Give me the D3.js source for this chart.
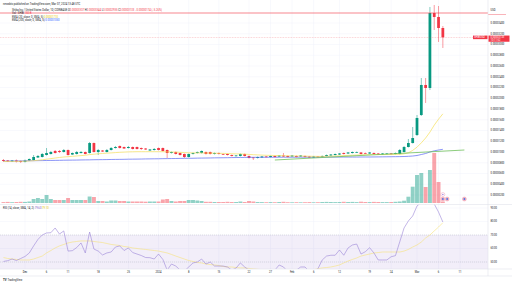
<!DOCTYPE html>
<html>
<head>
<meta charset="utf-8">
<script src="https://d3js.org/d3.v7.min.js"></script>
<style>
body { margin: 0; background: #fff; }
svg { display: block; font-family: Roboto, "Liberation Sans", sans-serif; }
.ax { font-size: 2.6px; fill: #131722; }
.hd { font-size: 2.7px; fill: #131722; }
</style>
</head>
<body>
<svg id="chart" width="512" height="284"></svg>
<script>
// SHIB/USD daily candles, 26 Nov 2023 .. 7 Mar 2024
// prices in millionths of a USD (1 = 0.00000100)
var firstDay = Date.UTC(2023, 10, 26);

var open = [8.51, 8.42, 8.23, 8.42, 8.33, 8.14, 8.42, 8.51, 8.98, 9.07,
  9.44, 9.63, 10.19, 10.19, 10.00, 10.37, 9.53, 9.63, 9.81, 10.00,
  9.81, 11.67, 10.00, 10.28, 10.00, 10.37, 10.74, 11.12, 10.93, 10.74,
  10.93, 10.93, 10.74, 10.65, 10.28, 10.37, 10.74, 10.74, 10.37, 9.81,
  10.00, 9.81, 9.63, 9.07, 9.63, 9.81, 9.81, 10.00, 10.00, 9.63,
  9.81, 9.63, 9.63, 9.44, 9.22, 9.26, 9.63, 9.26, 8.98, 8.88,
  8.98, 9.16, 9.07, 9.26, 9.16, 9.35, 9.26, 9.16, 9.26, 9.16,
  9.26, 9.16, 8.98, 9.16, 9.07, 9.26, 9.35, 9.44, 9.53, 9.81,
  9.72, 9.81, 9.91, 9.91, 9.81, 9.72, 9.81, 9.72, 9.53, 9.63,
  9.72, 9.63, 9.63, 10.00, 10.93, 11.67, 13.16, 16.88, 22.47, 21.91,
  35.86, 35.12, 33.07];
var high = [8.70, 8.51, 8.51, 8.60, 8.42, 8.60, 8.79, 9.44, 9.44, 9.81,
  10.74, 10.19, 10.37, 10.37, 10.56, 10.47, 9.91, 10.19, 10.19, 10.09,
  11.86, 11.77, 10.56, 10.37, 10.56, 10.93, 11.12, 11.21, 11.02, 11.12,
  11.02, 11.02, 10.84, 10.74, 10.56, 10.74, 10.84, 10.84, 10.47, 10.09,
  10.09, 9.91, 9.72, 9.72, 9.91, 10.09, 10.28, 10.09, 10.09, 9.91,
  9.91, 9.72, 9.72, 9.53, 9.44, 9.72, 9.72, 9.35, 9.07, 9.16,
  9.26, 9.26, 9.35, 9.35, 9.44, 9.81, 9.35, 9.44, 9.35, 9.44,
  9.35, 9.26, 9.26, 9.26, 9.35, 9.53, 9.63, 9.72, 9.81, 9.91,
  10.00, 10.09, 10.09, 10.00, 9.91, 10.00, 9.91, 9.81, 9.81, 9.81,
  9.81, 9.91, 10.56, 11.12, 12.42, 14.65, 16.88, 23.77, 23.77, 36.98,
  37.35, 37.16, 33.44];
var low = [8.14, 8.14, 8.14, 8.05, 7.95, 8.05, 8.33, 8.42, 8.88, 8.98,
  9.35, 9.53, 9.72, 9.81, 9.91, 9.35, 9.44, 9.53, 9.72, 9.53,
  9.72, 9.91, 9.44, 10.00, 9.91, 10.28, 10.65, 10.65, 10.56, 10.65,
  10.47, 10.47, 10.37, 10.37, 10.19, 10.28, 10.28, 10.09, 8.88, 9.72,
  9.53, 9.35, 8.88, 8.98, 9.53, 9.72, 9.72, 9.53, 9.53, 9.53,
  9.53, 9.44, 9.35, 9.16, 9.16, 9.16, 9.16, 8.79, 8.51, 8.79,
  8.88, 8.98, 8.98, 8.98, 9.07, 9.07, 8.98, 9.07, 8.98, 9.07,
  8.98, 8.88, 8.88, 8.98, 8.98, 9.16, 9.26, 9.35, 9.44, 9.53,
  9.63, 9.72, 9.81, 9.53, 9.63, 9.63, 9.53, 9.44, 9.44, 9.53,
  9.53, 9.53, 9.53, 9.91, 10.84, 11.58, 12.98, 16.70, 19.12, 21.53,
  32.70, 30.47, 29.35];
var close = [8.33, 8.23, 8.42, 8.23, 8.14, 8.42, 8.70, 9.07, 9.26, 9.63,
  9.81, 10.00, 9.81, 10.00, 10.37, 9.44, 9.81, 10.00, 10.00, 9.63,
  11.67, 10.00, 10.37, 10.09, 10.37, 10.74, 10.93, 10.74, 10.65, 10.93,
  10.56, 10.56, 10.56, 10.47, 10.47, 10.56, 10.37, 10.19, 9.81, 10.00,
  9.63, 9.44, 9.07, 9.63, 9.81, 10.00, 10.19, 9.63, 9.63, 9.81,
  9.63, 9.53, 9.44, 9.26, 9.35, 9.63, 9.26, 8.88, 8.85, 9.07,
  9.16, 9.07, 9.26, 9.07, 9.35, 9.16, 9.07, 9.35, 9.07, 9.35,
  9.07, 8.98, 9.16, 9.07, 9.26, 9.44, 9.53, 9.63, 9.72, 9.63,
  9.91, 10.00, 10.00, 9.63, 9.72, 9.91, 9.63, 9.53, 9.72, 9.72,
  9.63, 9.81, 10.37, 10.93, 11.67, 12.60, 16.33, 22.47, 21.91, 35.86,
  35.12, 33.07, 31.33];
// volume, billions of SHIB
var volume = [90, 110, 80, 100, 120, 110, 150, 400, 500, 400,
  800, 400, 300, 300, 300, 500, 300, 300, 300, 300,
  650, 600, 200, 200, 150, 250, 250, 200, 200, 150,
  150, 150, 150, 130, 150, 150, 150, 350, 400, 200,
  150, 200, 200, 300, 300, 250, 200, 120, 120, 100,
  100, 100, 120, 100, 100, 150, 100, 200, 150, 100,
  90, 80, 90, 80, 100, 120, 80, 70, 80, 70,
  80, 90, 70, 80, 100, 110, 100, 90, 100, 120,
  100, 110, 90, 130, 100, 90, 110, 100, 90, 90,
  100, 120, 150, 230, 630, 1630, 2800, 3000, 1600, 3300,
  5000, 2100, 150];
var ema20 = [8.23, 8.23, 8.25, 8.25, 8.27, 8.29, 8.33, 8.38, 8.46, 8.55,
  8.66, 8.77, 8.88, 8.98, 9.07, 9.13, 9.20, 9.26, 9.33, 9.39,
  9.52, 9.59, 9.67, 9.72, 9.78, 9.83, 9.89, 9.94, 9.98, 10.02,
  10.04, 10.06, 10.06, 10.06, 10.06, 10.06, 10.06, 10.06, 10.02, 10.00,
  9.98, 9.94, 9.89, 9.85, 9.83, 9.83, 9.83, 9.81, 9.80, 9.78,
  9.76, 9.74, 9.72, 9.68, 9.65, 9.63, 9.61, 9.55, 9.50, 9.46,
  9.42, 9.39, 9.37, 9.35, 9.33, 9.31, 9.29, 9.27, 9.26, 9.26,
  9.24, 9.22, 9.20, 9.18, 9.18, 9.20, 9.22, 9.26, 9.29, 9.33,
  9.37, 9.40, 9.44, 9.46, 9.48, 9.50, 9.52, 9.52, 9.52, 9.53,
  9.53, 9.55, 9.57, 9.66, 9.85, 10.30, 10.90, 11.70, 12.60, 13.70,
  15.00, 16.10, 17.10];
var ema200 = [8.29, 8.30, 8.32, 8.33, 8.34, 8.35, 8.37, 8.38, 8.39, 8.40,
  8.42, 8.43, 8.44, 8.45, 8.47, 8.48, 8.49, 8.50, 8.52, 8.53,
  8.54, 8.56, 8.57, 8.58, 8.59, 8.61, 8.62, 8.63, 8.64, 8.66,
  8.67, 8.68, 8.69, 8.71, 8.72, 8.73, 8.74, 8.76, 8.77, 8.78,
  8.79, 8.81, 8.82, 8.83, 8.84, 8.86, 8.87, 8.88, 8.89, 8.91,
  8.92, 8.93, 8.94, 8.96, 8.97, 8.98, 8.99, 9.01, 9.01, 9.01,
  9.02, 9.02, 9.02, 9.02, 9.03, 9.03, 9.03, 9.03, 9.03, 9.04,
  9.04, 9.04, 9.04, 9.04, 9.05, 9.05, 9.05, 9.05, 9.05, 9.06,
  9.06, 9.06, 9.06, 9.07, 9.07, 9.07, 9.08, 9.09, 9.10, 9.11,
  9.12, 9.13, 9.14, 9.16, 9.20, 9.25, 9.35, 9.53, 9.72, 10.00,
  10.22, 10.37, 10.50];
var rsi = [50.4, 51, 52.2, 51.1, 52.6, 54.1, 56.7, 61.9, 66.7, 70,
  71.5, 71.7, 75.2, 70.7, 73, 58.1, 58.4, 60.7, 64.1, 56.7,
  72.2, 59.6, 58.1, 55.2, 56.7, 57.4, 61.1, 61.9, 58.5, 60.4,
  57, 55.9, 54.8, 53.3, 53.2, 52.2, 55.9, 51.9, 44, 48.5,
  47, 44.1, 43.3, 46.3, 49.3, 50, 52.2, 48.5, 50, 47,
  47, 47, 46.3, 44, 45.5, 49.3, 46.3, 44, 43, 42,
  41.5, 43, 44.5, 44, 47.8, 46.3, 43, 42, 44, 46.3,
  46.3, 43, 42, 45, 51.5, 54.4, 55, 55, 58.9, 55,
  60.4, 62.6, 63.3, 55.9, 57.6, 60.6, 56.7, 51.5, 51.5, 51.5,
  53.9, 54.7, 65, 75.2, 80.4, 84.1, 91.5, 94.1, 93.2, 96.0,
  93.0, 87, 79.6];
var rsiMa = [53.3, 52.6, 52.2, 51.9, 51.5, 51.5, 51.5, 52.2, 53.3, 54.4,
  56.7, 58.5, 60.4, 61.9, 63, 64.1, 64.8, 65.2, 65.6, 65.6,
  65.6, 65.2, 64.8, 64.4, 63.7, 63, 62.6, 62.2, 61.5, 61.1,
  60.4, 60, 59.6, 59.3, 58.9, 58.5, 58.1, 57.4, 56.7, 55.6,
  54.4, 53.3, 52.2, 51.1, 50.4, 49.6, 49.3, 48.5, 48.1, 47.8,
  47.4, 46.7, 46.3, 46.3, 45.9, 45.6, 45.6, 45.2, 44.9, 44.6,
  44.3, 44, 43.8, 43.6, 43.5, 43.4, 43.3, 43.3, 43.3, 43.4,
  43.6, 43.9, 44.3, 45, 45.6, 45.9, 46.3, 47, 47.8, 49.3,
  50.7, 51.9, 53, 54.4, 55.2, 55.9, 56.7, 57, 57.4, 57.4,
  57.4, 57.4, 57.4, 58.1, 59.3, 61.1, 62.6, 64.8, 67.8, 70,
  73, 75.9, 79.1];

var priceTicks = [2, 4, 6, 8, 10, 12, 14, 16, 18, 20, 22, 24, 26, 28, 30, 32, 34];
var rsiTicks = [50, 60, 70, 80, 90];
var timeTicks = ["2023-12-01", "2023-12-06", "2023-12-11", "2023-12-18", "2023-12-25", "2024-01-01",
  "2024-01-08", "2024-01-15", "2024-01-22", "2024-01-27", "2024-02-01", "2024-02-06", "2024-02-12",
  "2024-02-19", "2024-02-24", "2024-03-01", "2024-03-06", "2024-03-11"];
var timeLabels = ["Dec", "6", "11", "18", "25", "2024", "8", "15", "22", "27", "Feb", "6", "12",
  "19", "24", "Mar", "6", "11"];
var trendLine = [["2024-01-28", 8.51], ["2024-03-12", 10.37]];
var hLine = 35.86;
var events = [["2024-03-07", 0], ["2024-03-07", 1], ["2024-03-08", 1], ["2024-03-12", 1]];

var UP = "#089981", DOWN = "#f23645", GRID = "#f0f3fa";
var axisX = 488, sepY = 204.5, rsiBottom = 269, timeBottom = 276;

var svg = d3.select("#chart");
svg.append("rect").attr("width", 512).attr("height", 284).attr("fill", "#fff");

var days = open.map(function(d, i) { return d3.utcDay.offset(new Date(firstDay), i); });
var x = d3.scaleUtc()
  .domain([new Date(Date.UTC(2023, 11, 1)), new Date(Date.UTC(2024, 2, 1))])
  .range([25, 417]);
var y = d3.scaleLinear().domain([2, 34]).range([195, 23]);
var yVol = d3.scaleLinear().domain([0, 5000]).range([203, 153]);
var yRsi = d3.scaleLinear().domain([50, 90]).range([262, 208]);
var step = x(days[1]) - x(days[0]);

var defs = svg.append("defs");
defs.append("clipPath").attr("id", "cp-price").append("rect")
  .attr("x", 0).attr("y", 0).attr("width", axisX).attr("height", sepY);
defs.append("clipPath").attr("id", "cp-rsi").append("rect")
  .attr("x", 0).attr("y", sepY).attr("width", axisX).attr("height", rsiBottom - sepY);

// grid
var grid = svg.append("g").attr("stroke", GRID).attr("stroke-width", 0.5);
timeTicks.forEach(function(t) {
  var xx = x(new Date(t));
  grid.append("line").attr("x1", xx).attr("x2", xx).attr("y1", 0).attr("y2", rsiBottom);
});
priceTicks.forEach(function(p) {
  grid.append("line").attr("x1", 0).attr("x2", axisX).attr("y1", y(p)).attr("y2", y(p));
});
rsiTicks.forEach(function(r) {
  grid.append("line").attr("x1", 0).attr("x2", axisX).attr("y1", yRsi(r)).attr("y2", yRsi(r));
});

// price pane
var pp = svg.append("g").attr("clip-path", "url(#cp-price)");

pp.selectAll("rect.vol").data(volume).enter().append("rect")
  .attr("class", "vol")
  .attr("x", function(d, i) { return x(days[i]) - step / 2 + 0.2; })
  .attr("width", step - 0.4)
  .attr("y", function(d) { return yVol(d); })
  .attr("height", function(d) { return yVol(0) - yVol(d); })
  .attr("fill", function(d, i) { return close[i] >= open[i] ? UP : DOWN; })
  .attr("fill-opacity", 0.45);

var candles = pp.selectAll("g.c").data(open).enter().append("g").attr("class", "c");
candles.append("line")
  .attr("x1", function(d, i) { return x(days[i]); })
  .attr("x2", function(d, i) { return x(days[i]); })
  .attr("y1", function(d, i) { return y(high[i]); })
  .attr("y2", function(d, i) { return y(low[i]); })
  .attr("stroke", function(d, i) { return close[i] >= open[i] ? UP : DOWN; })
  .attr("stroke-width", 0.5);
candles.append("rect")
  .attr("x", function(d, i) { return x(days[i]) - step * 0.32; })
  .attr("width", step * 0.64)
  .attr("y", function(d, i) { return y(Math.max(open[i], close[i])); })
  .attr("height", function(d, i) { return Math.max(0.7, Math.abs(y(open[i]) - y(close[i]))); })
  .attr("fill", function(d, i) { return close[i] >= open[i] ? UP : DOWN; });

var line = d3.line().x(function(d, i) { return x(days[i]); });
pp.append("path").datum(ema200)
  .attr("d", line.y(function(d) { return y(d); }))
  .attr("fill", "none").attr("stroke", "#5a67f2").attr("stroke-width", 0.7);
pp.append("path").datum(ema20)
  .attr("d", line.y(function(d) { return y(d); }))
  .attr("fill", "none").attr("stroke", "#f5e05a").attr("stroke-width", 0.7);
pp.append("line")
  .attr("x1", x(new Date(trendLine[0][0]))).attr("y1", y(trendLine[0][1]))
  .attr("x2", x(new Date(trendLine[1][0]))).attr("y2", y(trendLine[1][1]))
  .attr("stroke", "#6fbf5a").attr("stroke-width", 0.8);

// current price line and horizontal level
var last = close[close.length - 1];
svg.append("line").attr("x1", 0).attr("x2", axisX).attr("y1", y(last)).attr("y2", y(last))
  .attr("stroke", DOWN).attr("stroke-width", 0.4).attr("stroke-dasharray", "0.8,0.8").attr("opacity", 0.7);
svg.append("line").attr("x1", 0).attr("x2", axisX).attr("y1", y(hLine)).attr("y2", y(hLine))
  .attr("stroke", DOWN).attr("stroke-width", 0.6);
svg.append("line").attr("x1", axisX).attr("x2", 506).attr("y1", y(hLine) + 1.5).attr("y2", y(hLine) + 1.5)
  .attr("stroke", "#f7a1a8").attr("stroke-width", 0.8);

// events
events.forEach(function(e) {
  var ex = x(new Date(e[0])), ey = e[1] ? 199 : 194.5;
  svg.append("circle").attr("cx", ex).attr("cy", ey).attr("r", 2)
    .attr("fill", e[1] ? "#f7b6bd" : "#fff").attr("stroke", "#e88fb0").attr("stroke-width", 0.4);
  svg.append("circle").attr("cx", ex).attr("cy", ey).attr("r", e[1] ? 0.9 : 0.7)
    .attr("fill", e[1] ? "#4a74e8" : "#9c7ad8");
});

// RSI pane
var rp = svg.append("g").attr("clip-path", "url(#cp-rsi)");
rp.append("rect").attr("x", 0).attr("width", axisX)
  .attr("y", yRsi(70)).attr("height", yRsi(30) - yRsi(70))
  .attr("fill", "#7e57c2").attr("fill-opacity", 0.1);
[70, 50, 30].forEach(function(v) {
  rp.append("line").attr("x1", 0).attr("x2", axisX).attr("y1", yRsi(v)).attr("y2", yRsi(v))
    .attr("stroke", "#b2b5be").attr("stroke-width", 0.4).attr("stroke-dasharray", "1,1");
});
rp.append("path").datum(rsiMa)
  .attr("d", line.y(function(d) { return yRsi(d); }))
  .attr("fill", "none").attr("stroke", "#f7e27a").attr("stroke-width", 0.6);
rp.append("path").datum(rsi)
  .attr("d", line.y(function(d) { return yRsi(d); }))
  .attr("fill", "none").attr("stroke", "#9a84d6").attr("stroke-width", 0.6);

// pane borders and axis
var bord = svg.append("g").attr("stroke", "#e0e3eb").attr("stroke-width", 0.6);
bord.append("line").attr("x1", 0).attr("x2", 512).attr("y1", sepY).attr("y2", sepY);
bord.append("line").attr("x1", 0).attr("x2", 512).attr("y1", rsiBottom).attr("y2", rsiBottom);
bord.append("line").attr("x1", 0).attr("x2", 512).attr("y1", timeBottom).attr("y2", timeBottom);
bord.append("line").attr("x1", axisX).attr("x2", axisX).attr("y1", 0).attr("y2", timeBottom);

var fmt = function(p) { return (p / 1e6).toFixed(8); };
svg.selectAll("text.pt").data(priceTicks).enter().append("text")
  .attr("class", "ax").attr("x", 490.5).attr("y", function(d) { return y(d) + 0.9; })
  .text(fmt);
svg.selectAll("text.rt").data(rsiTicks).enter().append("text")
  .attr("class", "ax").attr("x", 490.5).attr("y", function(d) { return yRsi(d) + 0.9; })
  .text(function(d) { return d.toFixed(2); });
svg.selectAll("text.tt").data(timeTicks).enter().append("text")
  .attr("class", "ax").attr("text-anchor", "middle")
  .attr("x", function(d) { return x(new Date(d)); }).attr("y", 273)
  .text(function(d, i) { return timeLabels[i]; });
svg.append("text").attr("class", "ax").attr("x", 490.5).attr("y", 10.5).text("USD");

// last price tags
var ly = y(last);
svg.append("rect").attr("x", 488.5).attr("y", ly - 1.8).attr("width", 21).attr("height", 6.2).attr("fill", DOWN);
svg.append("text").attr("class", "ax").attr("x", 490.5).attr("y", ly + 0.9).style("fill", "#fff").text(fmt(last));
svg.append("text").attr("class", "ax").attr("x", 490.5).attr("y", ly + 3.6).style("fill", "#fff").text("10:11:52");
svg.append("rect").attr("x", 473).attr("y", ly - 1.8).attr("width", 14.5).attr("height", 3.6).attr("fill", DOWN);
svg.append("text").attr("class", "ax").attr("x", 474).attr("y", ly + 0.9).style("fill", "#fff").text("SHIBUSD");

// header
var hd = svg.append("g").attr("class", "hd");
hd.append("text").attr("x", 3).attr("y", 4.5).text("newsbtc published on TradingView.com, Mar 07, 2024 13:48 UTC");
var t2 = hd.append("text").attr("x", 12).attr("y", 10.5);
t2.append("tspan").text("Shiba Inu / United States Dollar, 1D, COINBASE  ");
t2.append("tspan").text("O").append("tspan").style("fill", DOWN).text(fmt(open[open.length - 1]));
t2.append("tspan").text(" H").append("tspan").style("fill", DOWN).text(fmt(high[high.length - 1]));
t2.append("tspan").text(" L").append("tspan").style("fill", DOWN).text(fmt(low[low.length - 1]));
t2.append("tspan").text(" C").append("tspan").style("fill", DOWN).text(fmt(last) + " −0.00000174 (−5.26%)");
var t3 = hd.append("text").attr("x", 12).attr("y", 14.2);
t3.append("tspan").text("Vol · SHIB  ");
t3.append("tspan").style("fill", DOWN).text("150 B");
var t4 = hd.append("text").attr("x", 12).attr("y", 17.7);
t4.append("tspan").text("EMA (20, close, 0, SMA, 5)  ");
t4.append("tspan").style("fill", "#e8c900").text(fmt(ema20[ema20.length - 1]));
var t5 = hd.append("text").attr("x", 12).attr("y", 21.2);
t5.append("tspan").text("EMA (200, close, 0, SMA, 5)  ");
t5.append("tspan").style("fill", "#2962ff").text(fmt(ema200[ema200.length - 1]));
var t6 = hd.append("text").attr("x", 3).attr("y", 208.5);
t6.append("tspan").text("RSI (14, close, SMA, 14, 2)  ");
t6.append("tspan").style("fill", "#7e57c2").text(rsi[rsi.length - 1].toFixed(2));
t6.append("tspan").text("  ");
t6.append("tspan").style("fill", "#e8c900").text(rsiMa[rsiMa.length - 1].toFixed(2));

// footer
svg.append("text").attr("x", 3).attr("y", 281).style("font-size", "2.8px").style("font-weight", "bold")
  .attr("fill", "#131722").text("TV");
svg.append("text").attr("class", "hd").attr("x", 7.5).attr("y", 281).text("TradingView");
</script>
</body>
</html>
